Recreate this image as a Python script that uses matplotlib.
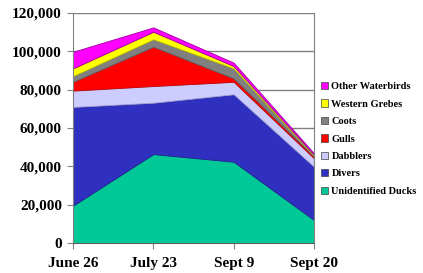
import matplotlib
matplotlib.use("Agg")
import matplotlib.pyplot as plt
from matplotlib.patches import Patch

datas = ["June 26", "July 23", "Sept 9", "Sept 20"]
especies = ["Unidentified Ducks", "Divers", "Dabblers", "Gulls",
            "Coots", "Western Grebes", "Other Waterbirds"]
unidentified = [19500, 46400, 42400, 12000]
divers = [51500, 26800, 35200, 27800]
dabblers = [8500, 8700, 6500, 4400]
gulls = [4600, 20500, 1800, 800]
coots = [3000, 3900, 5200, 500]
grebes = [4000, 3900, 1200, 500]
others = [8700, 2300, 1800, 800]

cores = ["#00c896", "#3030c0", "#ccccff", "#ff0000",
         "#808080", "#ffff00", "#ff00ff"]
bordas = ["#00a078", "#202090", "#a0a0d0", "#c00000",
          "#606060", "#c0c000", "#a000a0"]

plt.rcParams["font.family"] = ["Liberation Serif", "DejaVu Serif"]
plt.rcParams["font.weight"] = "bold"

fig = plt.figure(figsize=(4.23, 2.73), dpi=100)
ax = fig.add_axes([73/423, 1-243/273, (314-73)/423, (243-13)/273])

x = list(range(len(datas)))
series = [unidentified, divers, dabblers, gulls, coots, grebes, others]
polys = ax.stackplot(x, series, colors=cores, linewidth=0.6)
for p, b in zip(polys, bordas):
    p.set_edgecolor(b)

ax.set_xlim(0, 3)
ax.set_ylim(0, 120000)
ax.set_yticks(range(0, 120001, 20000))
ax.set_yticklabels([f"{v:,}" for v in range(0, 120001, 20000)], fontsize=11, fontweight="bold")
ax.set_xticks(x)
ax.set_xticklabels(datas, fontsize=11, fontweight="bold")
ax.tick_params(axis="x", length=4, pad=6, color="#808080")
ax.tick_params(axis="y", length=4, pad=4, color="#808080")
ax.grid(axis="y", color="#808080", linewidth=1)
ax.set_axisbelow(True)
ax.spines["top"].set_visible(False)
ax.spines["left"].set_color("#808080")
ax.spines["right"].set_color("#808080")
ax.spines["bottom"].set_color("#606060")

handles = [Patch(facecolor=c, edgecolor="#404040", linewidth=0.5) for c in cores]
fig.legend(handles[::-1], especies[::-1], loc="upper left",
           bbox_to_anchor=(321/423, 1-82/273), frameon=False,
           prop={"family": "Liberation Serif", "weight": "bold", "size": 7.5},
           handlelength=0.7, handleheight=0.7, handletextpad=0.3,
           labelspacing=0.78, borderpad=0, borderaxespad=0)

fig.savefig("out.png", dpi=100)
